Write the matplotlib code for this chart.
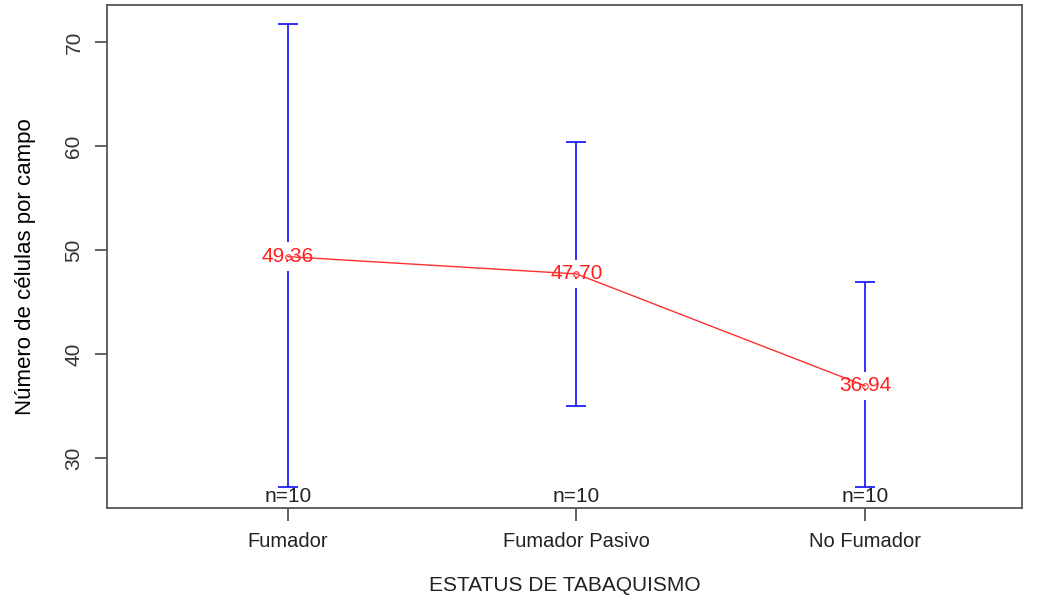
import matplotlib.pyplot as plt
import matplotlib.transforms as mtransforms
import numpy as np

plt.rcParams['font.family'] = ['Liberation Sans', 'DejaVu Sans']

## Datos
grupos = ["Fumador", "Fumador Pasivo", "No Fumador"]
medias = [49.36, 47.70, 36.94]
inferior = [27.2, 35.0, 27.2]
superior = [71.7, 60.4, 46.9]
n_grupo = [10, 10, 10]

x = np.arange(1, len(grupos) + 1)
medias = np.array(medias)
err = [medias - np.array(inferior), np.array(superior) - medias]

fig = plt.figure(figsize=(10.39, 5.95), dpi=100)
ax = fig.add_axes([0.103, 0.1462, 0.8806, 0.8454])

## Barras de error
ax.errorbar(x, medias, yerr=err, fmt='none', ecolor='#2020ff', elinewidth=1.3,
            capsize=7, capthick=1.3, zorder=1)

## Etiquetas de las medias (fondo blanco corta la barra)
for xi, m in zip(x, medias):
    ax.text(xi, m, f"{m:.2f}", color='#ff2020', fontsize=15, ha='center', va='center',
            bbox=dict(facecolor='white', edgecolor='none', pad=3.5), zorder=2)

## Línea de medias
ax.plot(x, medias, color='#ff3030', linewidth=1, zorder=3)
ax.plot(x, medias, 'o', mfc='none', mec='#ff3030', ms=4, mew=0.8, zorder=3)

## n por grupo
trans = mtransforms.blended_transform_factory(ax.transData, ax.transAxes)
for xi, n in zip(x, n_grupo):
    ax.text(xi, 0.022, f"n={n}", ha='center', va='center', fontsize=15,
            color='#222222', transform=trans)

ax.set_xlim(0.373, 3.544)
ax.set_ylim(25.19, 73.56)
ax.set_xticks(x)
ax.set_xticklabels(grupos, fontsize=14.5, color='#222222')
ax.set_yticks([30, 40, 50, 60, 70])
ax.set_yticklabels(["30", "40", "50", "60", "70"], rotation=90, va='center',
                   fontsize=15, color='#333333')
ax.tick_params(axis='both', direction='out', length=9, width=1.3, color='#555555', pad=8)
for s in ax.spines.values():
    s.set_color('#555555')
    s.set_linewidth(1.3)

ax.set_xlabel("ESTATUS DE TABAQUISMO", fontsize=15, color='#222222', labelpad=18)
ax.set_ylabel("Número de células por campo", fontsize=16, color='black')
ax.yaxis.set_label_coords(-0.078, 0.48)

fig.savefig("out.png", dpi=100)
